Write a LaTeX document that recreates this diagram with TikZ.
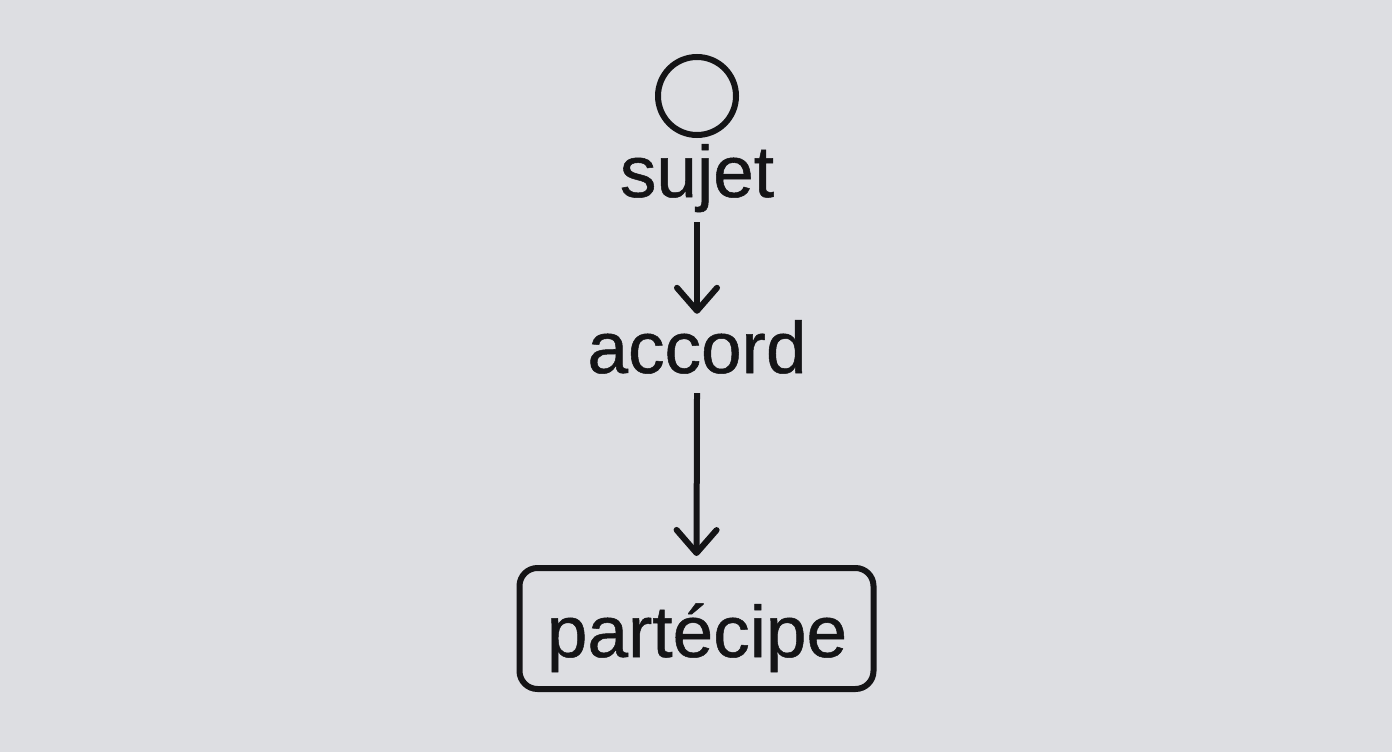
\documentclass[tikz,border=0pt]{standalone}
\usepackage{fontspec}
\setmainfont{Liberation Sans}
\newfontfamily\heavysans[FakeBold=0.7]{Liberation Sans}
\usetikzlibrary{arrows.meta}
\definecolor{bgc}{RGB}{221,222,226}
\definecolor{ink}{RGB}{20,20,22}
\begin{document}
\begin{tikzpicture}[x=1pt,y=-1pt,
  lbl/.style={inner sep=8pt,anchor=base,text height=52pt,text depth=15pt,font=\heavysans\fontsize{73}{80}\selectfont,text=ink},
  flow/.style={draw=ink,line width=6pt,-{Straight Barb[length=23pt,width=40pt,line width=6pt,round]}},
  boxst/.style={draw=ink,line width=6pt,rounded corners=18pt,minimum width=354pt,minimum height=121pt,inner sep=0pt,text=ink}]
\fill[bgc] (0,0) rectangle (1392,752);
\useasboundingbox (0,0) rectangle (1392,752);
\node[draw=ink,line width=6pt,circle,minimum size=78pt,inner sep=0pt] (start) at (697,96) {};
\node[lbl] (sujet) at (697,197) {sujet};
\node[lbl] (accord) at (697,373) {accord};
\node[boxst] (part) at (696.5,628.5) {};
\node[lbl] (parttxt) at (697,657) {partécipe};
\draw[flow,shorten <=2pt,shorten >=-1pt] (sujet.south) -- (accord.north);
\draw[flow,shorten <=-3pt,shorten >=9pt] (accord.south) -- (part.north);
\end{tikzpicture}
\end{document}
